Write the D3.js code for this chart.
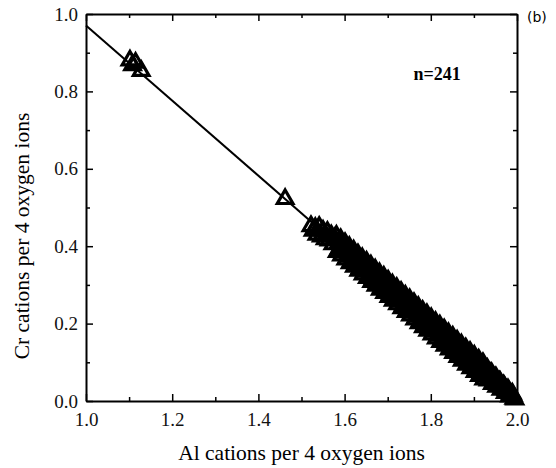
<!DOCTYPE html>
<html>
<head>
<meta charset="utf-8">
<script src="https://cdn.jsdelivr.net/npm/d3@7"></script>
<style>
  body { margin: 0; background: #fff; }
  svg { display: block; font-family: "Liberation Serif", "Times New Roman", serif; }
</style>
</head>
<body>
<svg width="556" height="468"></svg>
<script>
// Al / Cr cations per 4 oxygen ions
const alValues = [
  1.102, 1.108, 1.115, 1.128, 1.462,
  1.522, 1.527, 1.532, 1.536, 1.541, 1.546, 1.550, 1.555, 1.560, 1.564, 1.569, 1.573, 1.577,
  1.581, 1.583, 1.585, 1.587, 1.589,
  1.591, 1.593, 1.595, 1.597, 1.599,
  1.601, 1.603, 1.605, 1.607, 1.609,
  1.611, 1.613, 1.615, 1.617, 1.619,
  1.621, 1.623, 1.625, 1.627, 1.629,
  1.631, 1.633, 1.635, 1.637, 1.639,
  1.641, 1.643, 1.645, 1.647, 1.649,
  1.651, 1.653, 1.655, 1.657, 1.659,
  1.661, 1.663, 1.665, 1.667, 1.669,
  1.671, 1.673, 1.675, 1.677, 1.679,
  1.681, 1.683, 1.685, 1.687, 1.689,
  1.691, 1.693, 1.695, 1.697, 1.699,
  1.701, 1.703, 1.705, 1.707, 1.709,
  1.711, 1.713, 1.715, 1.717, 1.719,
  1.721, 1.723, 1.725, 1.727, 1.729,
  1.731, 1.733, 1.735, 1.737, 1.739,
  1.741, 1.743, 1.745, 1.747, 1.749,
  1.751, 1.753, 1.755, 1.757, 1.759,
  1.761, 1.763, 1.765, 1.767, 1.769,
  1.771, 1.773, 1.775, 1.777, 1.779,
  1.781, 1.783, 1.785, 1.787, 1.789,
  1.791, 1.793, 1.795, 1.797, 1.799,
  1.801, 1.803, 1.805, 1.807, 1.809,
  1.811, 1.813, 1.815, 1.817, 1.819,
  1.821, 1.823, 1.825, 1.827, 1.829,
  1.831, 1.833, 1.835, 1.837, 1.839,
  1.841, 1.843, 1.845, 1.847, 1.849,
  1.851, 1.853, 1.855, 1.857, 1.859,
  1.861, 1.863, 1.865, 1.867, 1.869,
  1.871, 1.873, 1.875, 1.877, 1.879,
  1.881, 1.883, 1.885, 1.887, 1.889,
  1.891, 1.893, 1.895, 1.897, 1.899,
  1.901, 1.903, 1.905, 1.907, 1.909,
  1.911, 1.913, 1.915, 1.917, 1.919,
  1.921, 1.923, 1.925, 1.927, 1.929,
  1.931, 1.933, 1.935, 1.937, 1.939,
  1.941, 1.943, 1.945, 1.947, 1.949,
  1.951, 1.953, 1.955, 1.957, 1.959,
  1.961, 1.963, 1.965, 1.967, 1.969,
  1.971, 1.973, 1.975, 1.977, 1.979,
  1.981, 1.983, 1.985, 1.987, 1.989,
  1.991, 1.993, 1.995
];
const crValues = [
  0.880, 0.868, 0.874, 0.853, 0.522,
  0.452, 0.440, 0.447, 0.430, 0.450, 0.425, 0.440, 0.418, 0.437, 0.415, 0.428, 0.405, 0.420,
  0.427, 0.385, 0.406, 0.392, 0.410,
  0.418, 0.376, 0.397, 0.383, 0.401,
  0.408, 0.366, 0.387, 0.373, 0.391,
  0.398, 0.356, 0.377, 0.363, 0.381,
  0.389, 0.347, 0.368, 0.354, 0.372,
  0.379, 0.337, 0.358, 0.344, 0.362,
  0.369, 0.327, 0.348, 0.334, 0.352,
  0.360, 0.318, 0.339, 0.325, 0.343,
  0.350, 0.308, 0.329, 0.315, 0.333,
  0.340, 0.298, 0.319, 0.305, 0.323,
  0.330, 0.288, 0.309, 0.295, 0.313,
  0.321, 0.279, 0.300, 0.286, 0.304,
  0.311, 0.269, 0.290, 0.276, 0.294,
  0.301, 0.259, 0.280, 0.266, 0.284,
  0.292, 0.250, 0.271, 0.257, 0.275,
  0.282, 0.240, 0.261, 0.247, 0.265,
  0.272, 0.230, 0.251, 0.237, 0.255,
  0.263, 0.221, 0.242, 0.228, 0.246,
  0.253, 0.211, 0.232, 0.218, 0.236,
  0.243, 0.201, 0.222, 0.208, 0.226,
  0.233, 0.191, 0.212, 0.198, 0.216,
  0.224, 0.182, 0.203, 0.189, 0.207,
  0.214, 0.172, 0.193, 0.179, 0.197,
  0.204, 0.162, 0.183, 0.169, 0.187,
  0.195, 0.153, 0.174, 0.160, 0.178,
  0.185, 0.143, 0.164, 0.150, 0.168,
  0.175, 0.133, 0.154, 0.140, 0.158,
  0.166, 0.124, 0.145, 0.131, 0.149,
  0.156, 0.114, 0.135, 0.121, 0.139,
  0.146, 0.104, 0.125, 0.111, 0.129,
  0.136, 0.094, 0.115, 0.101, 0.119,
  0.127, 0.085, 0.106, 0.092, 0.110,
  0.117, 0.075, 0.096, 0.082, 0.100,
  0.107, 0.065, 0.086, 0.072, 0.090,
  0.098, 0.056, 0.077, 0.063, 0.081,
  0.083, 0.053, 0.067, 0.058, 0.071,
  0.072, 0.044, 0.057, 0.049, 0.060,
  0.061, 0.037, 0.048, 0.041, 0.050,
  0.049, 0.029, 0.038, 0.032, 0.040,
  0.037, 0.021, 0.028, 0.023, 0.030,
  0.025, 0.012, 0.018, 0.014, 0.019,
  0.013, 0.006, 0.004
];
// fitted line end points
const fitAl = [1.0, 2.0];
const fitCr = [0.97, 0.0];

const xTicks = [1.0, 1.2, 1.4, 1.6, 1.8, 2.0];
const yTicks = [0.0, 0.2, 0.4, 0.6, 0.8, 1.0];
const xMinor = [1.1, 1.3, 1.5, 1.7, 1.9];
const yMinor = [0.1, 0.3, 0.5, 0.7, 0.9];

const svg = d3.select("svg");
const margin = { top: 14, right: 39, bottom: 67, left: 86 };
const width = +svg.attr("width");
const height = +svg.attr("height");
const innerWidth = width - margin.left - margin.right;
const innerHeight = height - margin.top - margin.bottom;

const xScale = d3.scaleLinear().domain([1.0, 2.0]).range([0, innerWidth]);
const yScale = d3.scaleLinear().domain([0.0, 1.0]).range([innerHeight, 0]);

const g = svg.append("g").attr("transform", `translate(${margin.left},${margin.top})`);

// frame axes with inward ticks
const axisStyle = (sel) => {
  sel.selectAll(".domain").attr("stroke-width", 2);
  sel.selectAll(".tick line").attr("stroke-width", 1.5);
  sel.selectAll(".tick text")
    .style("font-family", "'Liberation Serif', serif")
    .style("font-size", "19px")
    .attr("fill", "#111");
};
// tick-only axes: drop the empty labels
const bare = (sel) => sel.selectAll(".tick text").remove();
const fmt = d3.format(".1f");

const bottomG = g.append("g").attr("transform", `translate(0,${innerHeight})`)
  .call(d3.axisBottom(xScale).tickValues(xTicks).tickSize(-7).tickSizeOuter(0).tickPadding(12).tickFormat(fmt));
bottomG.call(axisStyle);
bottomG.append("g").call(d3.axisBottom(xScale).tickValues(xMinor).tickSize(-4).tickFormat(""))
  .call((s) => s.select(".domain").remove()).call(axisStyle).call(bare);

const leftG = g.append("g")
  .call(d3.axisLeft(yScale).tickValues(yTicks).tickSize(-7).tickSizeOuter(0).tickPadding(8).tickFormat(fmt));
leftG.call(axisStyle);
leftG.append("g").call(d3.axisLeft(yScale).tickValues(yMinor).tickSize(-4).tickFormat(""))
  .call((s) => s.select(".domain").remove()).call(axisStyle).call(bare);

const topG = g.append("g")
  .call(d3.axisTop(xScale).tickValues(xTicks).tickSize(-7).tickSizeOuter(0).tickFormat(""));
topG.call(axisStyle).call(bare);
topG.append("g").call(d3.axisTop(xScale).tickValues(xMinor).tickSize(-4).tickFormat(""))
  .call((s) => s.select(".domain").remove()).call(axisStyle).call(bare);

const rightG = g.append("g").attr("transform", `translate(${innerWidth},0)`)
  .call(d3.axisRight(yScale).tickValues(yTicks).tickSize(-7).tickSizeOuter(0).tickFormat(""));
rightG.call(axisStyle).call(bare);
rightG.append("g").call(d3.axisRight(yScale).tickValues(yMinor).tickSize(-4).tickFormat(""))
  .call((s) => s.select(".domain").remove()).call(axisStyle).call(bare);

// regression line
const lineData = fitAl.map((a, i) => ({ al: a, cr: fitCr[i] }));
g.append("path")
  .attr("d", d3.line().x((d) => xScale(d.al)).y((d) => yScale(d.cr))(lineData))
  .attr("fill", "none")
  .attr("stroke", "#000")
  .attr("stroke-width", 2);

// open triangles
const points = alValues.map((a, i) => ({ al: a, cr: crValues[i] }));
const tri = d3.symbol().type(d3.symbolTriangle).size(105);
g.selectAll(".pt")
  .data(points)
  .join("path")
  .attr("class", "pt")
  .attr("d", tri)
  .attr("transform", (d) => `translate(${xScale(d.al)},${yScale(d.cr)})`)
  .attr("fill", "none")
  .attr("stroke", "#000")
  .attr("stroke-width", 3.2);

// labels
g.append("text")
  .attr("x", innerWidth / 2)
  .attr("y", innerHeight + 59)
  .attr("text-anchor", "middle")
  .attr("font-size", 21.5)
  .text("Al cations per 4 oxygen ions");

g.append("text")
  .attr("transform", `translate(-57,222) rotate(-90)`)
  .attr("text-anchor", "middle")
  .attr("font-size", 21.5)
  .text("Cr cations per 4 oxygen ions");

g.append("text")
  .attr("x", xScale(1.76))
  .attr("y", yScale(0.83))
  .attr("font-size", 18)
  .attr("font-weight", "bold")
  .text("n=241");

svg.append("text")
  .attr("x", 527)
  .attr("y", 22)
  .attr("font-size", 14)
  .attr("font-family", "DejaVu Sans, sans-serif")
  .text("(b)");
</script>
</body>
</html>
